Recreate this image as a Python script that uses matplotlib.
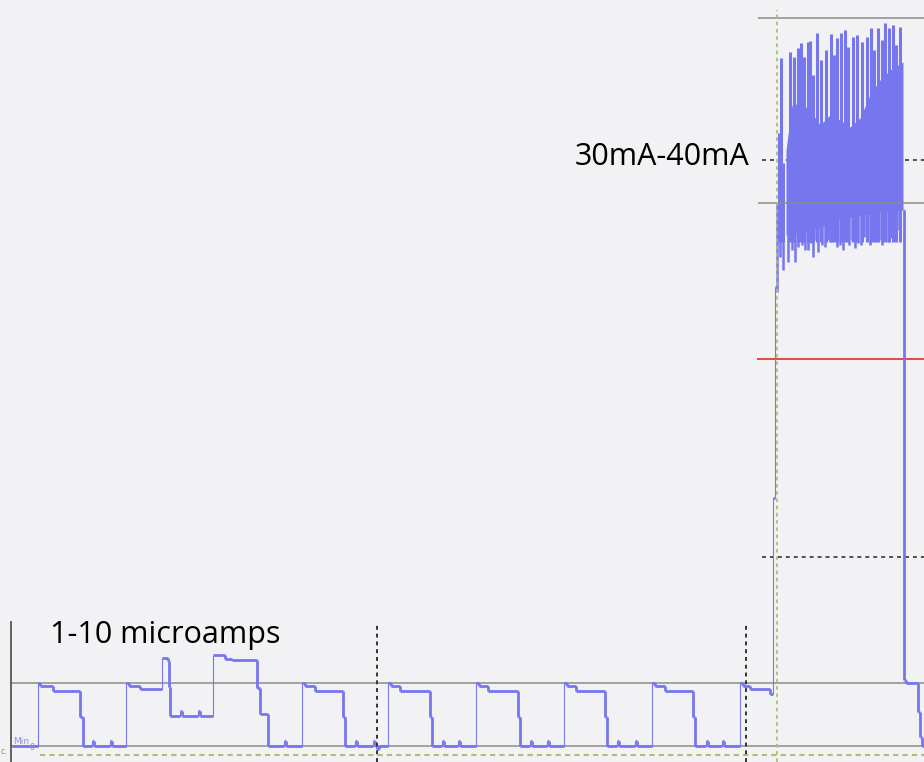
import numpy as np
import matplotlib
matplotlib.use("Agg")
import matplotlib.pyplot as plt
from matplotlib.collections import LineCollection

# trace levels, in screen units (0 = bottom edge, 762 = top edge)
# low-current square wave, as (time, level) steps
low_t = [12, 38, 40, 53, 80, 83, 92, 94, 110, 112,
         126, 129, 140, 162, 168, 169, 170, 180, 182, 198, 200,
         213, 225, 232, 257, 260, 268, 284, 286,
         302, 305, 315, 343, 345, 355, 357, 373, 375, 377, 379,
         388, 391, 400, 430, 432, 442, 444, 458, 460,
         476, 479, 488, 518, 520, 530, 532, 547, 549,
         564, 567, 576, 605, 607, 617, 619, 635, 637,
         652, 655, 665, 693, 695, 706, 708, 722, 724,
         740, 743, 750, 770, 773, 775, 776]
low_level = [16, 79, 76, 71, 45, 16, 21, 16, 21, 16,
             79, 76, 73, 104, 101, 75, 46, 51, 46, 51, 46,
             107, 103, 102, 74, 48, 16, 21, 16,
             79, 76, 71, 45, 16, 21, 16, 21, 16, 13, 16,
             79, 76, 71, 45, 16, 21, 16, 21, 16,
             79, 76, 71, 45, 16, 21, 16, 21, 16,
             79, 76, 71, 45, 16, 21, 16, 21, 16,
             79, 76, 71, 45, 16, 21, 16, 21, 16,
             79, 76, 73, 68, 264, 475, 475]

# trace after the burst
post_t = [903, 904, 906, 918, 920, 922, 924]
post_level = [552, 82, 79, 50, 25, 16, 16]

# 30-40 mA burst: spike tops, solid body, lower teeth
spike_t = [779, 781, 783, 790, 794, 798, 801, 804, 808, 810, 813, 817, 821,
           826, 831, 834, 837, 841, 845, 848, 853, 857, 862, 867, 871, 874,
           878, 882, 885, 889, 893, 896, 900]
spike_top = [629, 704, 599, 710, 705, 714, 719, 705, 720, 721, 687, 729, 702,
             712, 728, 707, 724, 729, 732, 715, 725, 727, 720, 725, 734, 712,
             734, 722, 739, 734, 737, 717, 735]
body_t = [786, 792, 800, 810, 820, 830, 840, 850, 860, 870, 880, 890, 903]
body_hi = [612, 657, 659, 652, 637, 647, 642, 635, 644, 667, 682, 692, 700]
body_lo = [527, 528, 530, 532, 535, 540, 543, 545, 547, 548, 550, 551, 552]
tooth_t = [777, 780, 783, 788, 792, 795, 798, 802, 805, 808, 811, 813, 816, 818,
           822, 825, 828, 830, 834, 837, 840, 843, 846, 849, 852, 855, 858,
           861, 864, 867, 870, 873, 876, 879, 882, 885, 888, 891, 894, 897, 900]
tooth_bottom = [470, 505, 492, 500, 512, 500, 515, 517, 512, 512, 519, 505, 522, 510,
                517, 515, 522, 520, 526, 515, 517, 512, 524, 517, 522, 514, 519,
                517, 525, 522, 517, 527, 520, 522, 517, 526, 520, 524, 529, 532, 525]

BG = "#f2f2f4"
TRACE = "#7676ef"


def step_points(t, v):
    xs, ys = [t[0]], [v[0]]
    for i in range(1, len(t)):
        xs += [t[i], t[i]]
        ys += [v[i - 1], v[i]]
    return np.array(xs, float), np.array(ys, float)


def draw_trace(ax, t, v):
    xs, ys = step_points(t, v)
    pts = np.column_stack([xs, ys])
    segs = np.stack([pts[:-1], pts[1:]], axis=1)
    rising = (segs[:, 1, 1] - segs[:, 0, 1]) > 3
    widths = np.where(rising, 0.8, 2.0)
    ax.add_collection(LineCollection(segs, colors=TRACE, linewidths=widths,
                                     capstyle="butt", zorder=2))


fig = plt.figure(figsize=(9.24, 7.62), dpi=100, facecolor=BG)
ax = fig.add_axes([0, 0, 1, 1], facecolor=BG)
ax.set_xlim(0, 924)
ax.set_ylim(0, 762)
ax.axis("off")

# grid / marker lines
ax.plot([11, 11], [0, 140], color="#555555", lw=1.3, zorder=3)
ax.hlines([79, 16], 11, 924, color="#8c8c8c", lw=1.1, zorder=1)
ax.hlines(7, 40, 924, color="#abc16c", lw=1.5, linestyles=(0, (2.5, 2)), zorder=1)
ax.vlines([377, 746], 0, 140, color="#333333", lw=1.4, linestyles=(0, (2, 2)), zorder=3)
ax.hlines([602, 205], 762, 924, color="#444444", lw=1.3, linestyles=(0, (2.2, 2.2)), zorder=1)
ax.hlines(403, 757, 924, color="#e02a2a", lw=1.2, zorder=1.5)

# trace
draw_trace(ax, low_t, low_level)
draw_trace(ax, post_t, post_level)
ax.fill_between(body_t, body_lo, body_hi, color=TRACE, lw=0, zorder=2)
ax.vlines(spike_t, 520, spike_top, color=TRACE, lw=2.2, zorder=2)
ax.vlines(tooth_t, 560, tooth_bottom, color=TRACE, lw=1.8, zorder=2)

ax.hlines([744, 559], 758, 924, color="#8c8c8c", lw=1.1, zorder=3)
ax.vlines(777, 0, 752, color="#abc16c", lw=1.3, linestyles=(0, (2, 2)), zorder=3)

# labels
ax.text(50, 119, "1-10 microamps", fontsize=22, family="Open Sans",
        color="#000000", va="baseline", ha="left")
ax.text(575, 597, "30mA-40mA", fontsize=22, family="Open Sans",
        color="#000000", va="baseline", ha="left")
ax.text(13, 18, "Min", fontsize=6.5, color="#9090dd", va="baseline")
ax.text(30, 12, "0", fontsize=6, color="#9090dd", va="baseline")
ax.text(1, 8, "c.", fontsize=5.5, color="#888888", va="baseline")

fig.savefig("out.png", dpi=100, facecolor=BG)
